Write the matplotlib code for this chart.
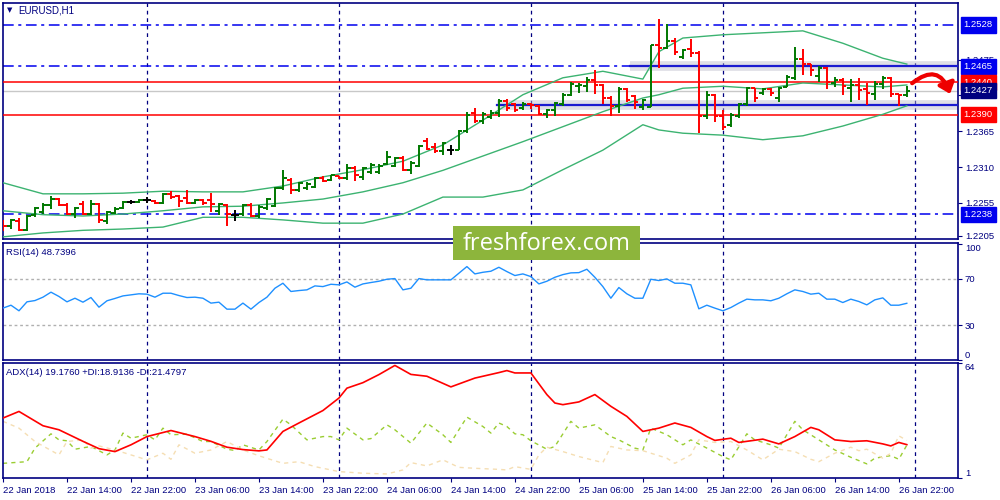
import numpy as np
import matplotlib
matplotlib.use("Agg")
import matplotlib.pyplot as plt
from matplotlib import transforms
from matplotlib.patches import Rectangle, FancyArrowPatch

plt.rcParams["font.family"] = ["Liberation Sans", "DejaVu Sans"]

# ------------------------------------------------------------
# Data (EURUSD H1, 22 Jan 06:00 .. 26 Jan 23:00)
# ------------------------------------------------------------

OPEN = [
    1.2227, 1.2220, 1.2227, 1.2213, 1.2237, 1.2241, 1.2252, 1.2261, 1.2252, 1.2238,
    1.2253, 1.2238, 1.2253, 1.2227, 1.2240, 1.2247, 1.2256, 1.2256, 1.2260, 1.2258,
    1.2255, 1.2269, 1.2266, 1.2263, 1.2255, 1.2260, 1.2260, 1.2243, 1.2252, 1.2237,
    1.2238, 1.2252, 1.2235, 1.2247, 1.2250, 1.2278, 1.2290, 1.2275, 1.2278, 1.2279,
    1.2293, 1.2290, 1.2296, 1.2293, 1.2309, 1.2295, 1.2303, 1.2303, 1.2315, 1.2312,
    1.2324, 1.2306, 1.2312, 1.2350, 1.2341, 1.2335, 1.2336, 1.2336, 1.2365, 1.2393,
    1.2381, 1.2387, 1.2393, 1.2411, 1.2407, 1.2401, 1.2407, 1.2404, 1.2391, 1.2398,
    1.2407, 1.2421, 1.2434, 1.2434, 1.2444, 1.2436, 1.2416, 1.2404, 1.2430, 1.2419,
    1.2402, 1.2402, 1.2497, 1.2493, 1.2503, 1.2479, 1.2491, 1.2485, 1.2388, 1.2421,
    1.2388, 1.2375, 1.2388, 1.2407, 1.2431, 1.2424, 1.2430, 1.2416, 1.2433, 1.2447,
    1.2476, 1.2468, 1.2450, 1.2462, 1.2439, 1.2444, 1.2431, 1.2436, 1.2430, 1.2422,
    1.2437, 1.2447, 1.2422, 1.2421,
]
HIGH = [
    1.2229, 1.2230, 1.2232, 1.2237, 1.2249, 1.2255, 1.2266, 1.2262, 1.2255, 1.2249,
    1.2258, 1.2260, 1.2255, 1.2243, 1.2249, 1.2258, 1.2260, 1.2261, 1.2264, 1.2259,
    1.2270, 1.2273, 1.2267, 1.2275, 1.2261, 1.2261, 1.2270, 1.2255, 1.2253, 1.2244,
    1.2253, 1.2255, 1.2252, 1.2263, 1.2279, 1.2306, 1.2293, 1.2287, 1.2287, 1.2295,
    1.2296, 1.2298, 1.2297, 1.2315, 1.2312, 1.2310, 1.2316, 1.2315, 1.2335, 1.2326,
    1.2327, 1.2319, 1.2344, 1.2355, 1.2347, 1.2349, 1.2344, 1.2367, 1.2395, 1.2401,
    1.2395, 1.2398, 1.2414, 1.2414, 1.2408, 1.2410, 1.2408, 1.2405, 1.2399, 1.2410,
    1.2424, 1.2441, 1.2439, 1.2448, 1.2459, 1.2437, 1.2419, 1.2433, 1.2431, 1.2421,
    1.2414, 1.2497, 1.2537, 1.2530, 1.2508, 1.2491, 1.2507, 1.2488, 1.2427, 1.2422,
    1.2398, 1.2393, 1.2408, 1.2433, 1.2431, 1.2431, 1.2431, 1.2433, 1.2451, 1.2494,
    1.2491, 1.2468, 1.2465, 1.2464, 1.2448, 1.2447, 1.2445, 1.2447, 1.2439, 1.2442,
    1.2450, 1.2448, 1.2422, 1.2434,
]
LOW = [
    1.2212, 1.2215, 1.2212, 1.2212, 1.2233, 1.2238, 1.2246, 1.2250, 1.2237, 1.2232,
    1.2237, 1.2237, 1.2224, 1.2223, 1.2238, 1.2246, 1.2253, 1.2255, 1.2255, 1.2253,
    1.2254, 1.2261, 1.2249, 1.2253, 1.2253, 1.2252, 1.2241, 1.2237, 1.2220, 1.2227,
    1.2235, 1.2233, 1.2232, 1.2244, 1.2249, 1.2275, 1.2269, 1.2272, 1.2275, 1.2278,
    1.2287, 1.2289, 1.2292, 1.2290, 1.2289, 1.2290, 1.2299, 1.2299, 1.2313, 1.2310,
    1.2304, 1.2299, 1.2310, 1.2336, 1.2332, 1.2329, 1.2329, 1.2336, 1.2362, 1.2378,
    1.2376, 1.2384, 1.2387, 1.2396, 1.2395, 1.2398, 1.2399, 1.2390, 1.2385, 1.2388,
    1.2404, 1.2419, 1.2424, 1.2425, 1.2422, 1.2407, 1.2388, 1.2393, 1.2410, 1.2399,
    1.2398, 1.2402, 1.2462, 1.2491, 1.2482, 1.2476, 1.2479, 1.2362, 1.2384, 1.2379,
    1.2367, 1.2371, 1.2385, 1.2404, 1.2410, 1.2421, 1.2419, 1.2410, 1.2433, 1.2444,
    1.2451, 1.2450, 1.2441, 1.2430, 1.2433, 1.2421, 1.2410, 1.2413, 1.2405, 1.2413,
    1.2430, 1.2418, 1.2404, 1.2418,
]
CLOSE = [
    1.2220, 1.2229, 1.2213, 1.2235, 1.2247, 1.2252, 1.2261, 1.2252, 1.2238, 1.2247,
    1.2238, 1.2253, 1.2229, 1.2241, 1.2246, 1.2256, 1.2256, 1.2260, 1.2260, 1.2255,
    1.2269, 1.2264, 1.2258, 1.2255, 1.2260, 1.2255, 1.2253, 1.2253, 1.2238, 1.2237,
    1.2252, 1.2235, 1.2249, 1.2261, 1.2278, 1.2293, 1.2275, 1.2286, 1.2284, 1.2293,
    1.2289, 1.2298, 1.2293, 1.2309, 1.2298, 1.2309, 1.2313, 1.2312, 1.2326, 1.2324,
    1.2306, 1.2316, 1.2342, 1.2338, 1.2335, 1.2347, 1.2336, 1.2365, 1.2390, 1.2381,
    1.2391, 1.2393, 1.2411, 1.2401, 1.2398, 1.2407, 1.2405, 1.2391, 1.2398, 1.2408,
    1.2421, 1.2437, 1.2436, 1.2444, 1.2436, 1.2416, 1.2404, 1.2430, 1.2413, 1.2410,
    1.2413, 1.2497, 1.2493, 1.2503, 1.2487, 1.2490, 1.2485, 1.2388, 1.2421, 1.2388,
    1.2371, 1.2390, 1.2407, 1.2431, 1.2416, 1.2430, 1.2424, 1.2431, 1.2448, 1.2476,
    1.2468, 1.2459, 1.2462, 1.2441, 1.2444, 1.2434, 1.2436, 1.2428, 1.2424, 1.2437,
    1.2447, 1.2422, 1.2420, 1.2427,
]

# Bollinger bands read at a subset of bars
BAND_BARS = [0, 5, 10, 15, 20, 25, 30, 35, 40, 45, 50, 55, 60, 65, 70, 75, 80,
             82, 85, 90, 95, 100, 105, 110, 113]
BB_UPPER = [1.2286, 1.2269, 1.2269, 1.2270, 1.2273, 1.2272, 1.2272, 1.2281, 1.2295,
            1.2306, 1.2319, 1.2344, 1.2382, 1.2421, 1.2447, 1.2457, 1.2445, 1.2487,
            1.2508, 1.2513, 1.2516, 1.2519, 1.2500, 1.2477, 1.2468]
BB_MIDDLE = [1.2243, 1.2237, 1.2235, 1.2238, 1.2243, 1.2249, 1.2250, 1.2255, 1.2261,
             1.2272, 1.2286, 1.2305, 1.2327, 1.2349, 1.2372, 1.2395, 1.2416, 1.2421,
             1.2431, 1.2434, 1.2430, 1.2439, 1.2436, 1.2433, 1.2436]
BB_LOWER = [1.2203, 1.2209, 1.2213, 1.2215, 1.2218, 1.2233, 1.2233, 1.2229, 1.2224,
            1.2224, 1.2238, 1.2264, 1.2264, 1.2275, 1.2306, 1.2336, 1.2375, 1.2367,
            1.2362, 1.2359, 1.2352, 1.2358, 1.2373, 1.2391, 1.2404]

RSI = [
    44.6, 47.1, 42.3, 50.0, 51.1, 54.0, 58.3, 54.6, 50.0, 53.1,
    49.7, 53.7, 45.4, 50.9, 52.9, 55.1, 56.0, 56.9, 56.6, 54.0,
    57.4, 57.4, 55.4, 53.7, 54.0, 53.1, 48.9, 49.7, 43.7, 43.7,
    48.9, 43.7, 49.4, 54.0, 61.7, 66.0, 58.9, 59.7, 60.3, 63.7,
    63.1, 65.1, 64.6, 67.1, 62.6, 65.4, 66.6, 67.7, 69.4, 70.0,
    60.3, 61.7, 70.0, 68.9, 68.9, 68.9, 68.9, 74.6, 80.3, 74.0,
    75.4, 76.3, 79.7, 76.0, 72.6, 74.0, 71.7, 65.4, 67.7, 71.1,
    73.4, 74.9, 75.1, 78.0, 71.1, 63.1, 53.1, 62.3, 56.9, 53.1,
    53.1, 69.4, 68.3, 69.7, 66.0, 66.0, 64.6, 44.0, 47.1, 44.6,
    42.3, 45.1, 48.9, 52.3, 51.7, 51.7, 50.9, 53.1, 56.9, 60.3,
    58.9, 56.6, 57.4, 52.3, 52.3, 49.4, 52.3, 50.3, 47.4, 51.7,
    53.4, 47.1, 47.1, 48.7396,
]

ADX_BARS = [0, 2, 5, 7, 10, 12, 14, 16, 18, 21, 24, 26, 28, 30, 32, 33, 35, 37, 40,
            42, 43, 45, 47, 49, 51, 53, 56, 59, 62, 63, 64, 66, 68, 69, 70, 72, 74,
            76, 78, 80, 82, 84, 86, 88, 89, 91, 92, 95, 97, 99, 101, 102, 104, 106,
            108, 110, 111, 112, 113]
ADX = [33.7, 37.3, 29.5, 27.3, 21.0, 17.0, 15.4, 19.1, 23.6, 26.9, 23.6, 21.0, 17.8,
       16.5, 15.8, 16.3, 26.4, 31.0, 37.8, 44.6, 50.0, 53.0, 57.4, 62.4, 57.5, 56.5,
       50.7, 55.5, 58.5, 59.6, 58.3, 58.3, 46.5, 41.9, 41.0, 42.5, 46.5, 40.1, 34.6,
       26.4, 28.2, 31.0, 28.6, 23.6, 21.5, 22.7, 20.4, 22.2, 19.6, 23.6, 28.6, 27.3,
       21.8, 20.9, 21.3, 19.6, 18.5, 20.4, 19.2]

PDI_BARS = [0, 3, 4, 6, 7, 8, 9, 11, 13, 14, 15, 16, 18, 19, 20, 21, 23, 25, 26, 28,
            29, 30, 32, 33, 35, 36, 38, 40, 41, 42, 43, 45, 46, 48, 49, 51, 53, 55,
            56, 58, 60, 61, 62, 63, 64, 65, 66, 68, 69, 71, 72, 74, 76, 77, 79, 80,
            81, 83, 85, 86, 88, 90, 91, 93, 94, 96, 97, 99, 100, 102, 104, 106, 108,
            109, 111, 112, 113]
PLUS_DI = [9.0, 9.9, 17.3, 25.1, 21.8, 21.3, 16.7, 18.2, 13.6, 16.3, 25.5, 22.7, 24.6,
           21.8, 28.2, 24.6, 24.9, 20.9, 20.9, 16.7, 16.0, 19.1, 16.3, 20.9, 33.1, 30.0,
           21.8, 23.6, 23.6, 21.8, 28.2, 21.8, 22.5, 30.0, 27.3, 20.0, 31.0, 24.6, 20.4,
           34.2, 29.1, 25.5, 31.0, 29.1, 25.1, 24.6, 21.3, 16.7, 18.2, 31.9, 28.2, 30.0,
           23.6, 21.8, 17.3, 16.3, 28.2, 24.6, 19.1, 21.8, 17.3, 12.7, 10.9, 25.1, 21.8,
           19.1, 17.3, 31.9, 27.3, 21.8, 16.3, 12.3, 8.7, 11.8, 13.2, 11.2, 18.9]

MDI_BARS = [0, 2, 4, 7, 8, 10, 11, 12, 14, 16, 18, 20, 21, 22, 24, 26, 28, 30, 32, 35,
            37, 39, 42, 45, 48, 50, 51, 53, 55, 57, 59, 62, 63, 64, 66, 67, 68, 70, 72,
            75, 76, 78, 80, 83, 84, 86, 87, 89, 91, 93, 95, 97, 99, 101, 102, 104, 106,
            107, 108, 110, 111, 112, 113]
MINUS_DI = [31.9, 28.2, 20.9, 13.6, 20.9, 21.8, 17.3, 18.5, 16.3, 13.6, 10.9, 14.5, 11.2,
            19.1, 14.5, 16.3, 20.9, 16.3, 13.1, 9.0, 9.9, 7.2, 4.5, 3.6, 3.2, 5.4, 9.4,
            7.6, 10.9, 6.8, 6.3, 5.7, 5.4, 7.2, 5.7, 13.6, 17.8, 15.4, 12.7, 9.4, 18.2,
            16.3, 15.9, 11.8, 9.0, 13.6, 21.8, 20.4, 20.9, 16.3, 10.9, 16.7, 15.4, 11.2,
            9.9, 14.5, 17.8, 15.9, 16.7, 11.8, 14.5, 24.0, 21.5]

# Horizontal levels drawn on the price panel
LEVEL_DASHED = [1.2528, 1.2238]
LEVEL_RED = [1.2440, 1.2390]
LEVEL_BLUE_TOP = 1.2465
LEVEL_BLUE_LOW = 1.2405
BID = 1.2427

PRICE_TICKS = [1.2205, 1.2255, 1.2310, 1.2365, 1.2420, 1.2475]
BOX_LABELS = [(1.2528, "#0000ee"), (1.2465, "#0000ee"), (1.2440, "#ff0000"),
              (1.2427, "#000080"), (1.2390, "#ff0000"), (1.2238, "#0000ee")]

TIME_TICKS = list(range(0, 113, 8))
TIME_LABELS = ["22 Jan 2018", "22 Jan 14:00", "22 Jan 22:00", "23 Jan 06:00",
               "23 Jan 14:00", "23 Jan 22:00", "24 Jan 06:00", "24 Jan 14:00",
               "24 Jan 22:00", "25 Jan 06:00", "25 Jan 14:00", "25 Jan 22:00",
               "26 Jan 06:00", "26 Jan 14:00", "26 Jan 22:00"]
GRID_BARS = [18, 42, 66, 90, 114]

# ------------------------------------------------------------
# Style
# ------------------------------------------------------------

NAVY = "#000080"
FS = 6.8
XLIM = (-0.06, 119.4)

fig = plt.figure(figsize=(10, 5), dpi=100)
ax = fig.add_axes([0.0025, 0.522, 0.9555, 0.473])
ax_rsi = fig.add_axes([0.0025, 0.280, 0.9555, 0.235])
ax_adx = fig.add_axes([0.0025, 0.044, 0.9555, 0.231])

for a in (ax, ax_rsi, ax_adx):
    a.set_xlim(*XLIM)
    for s in a.spines.values():
        s.set_color(NAVY)
        s.set_linewidth(1.2)
    a.yaxis.tick_right()
    a.tick_params(axis="y", colors=NAVY, labelsize=FS, length=3, width=0.8, pad=2)
    a.tick_params(axis="x", colors=NAVY, length=0)
    a.set_xticks([])
    for gx in GRID_BARS:
        a.axvline(gx, color=NAVY, lw=0.9, ls=(0, (3, 3)), zorder=1)

# ---------------- price panel ----------------
x = np.arange(len(CLOSE))
o = np.array(OPEN)
c = np.array(CLOSE)
cols = np.where(c > o, "#007800", np.where(c < o, "#ff0000", "#000000"))

ax.set_ylim(1.21997, 1.25625)

for lv in LEVEL_DASHED:
    ax.axhline(lv, color="#0000ee", lw=1.1, ls=(0, (7, 3, 2, 3)), zorder=2)
ax.plot([XLIM[0], 78.4], [LEVEL_BLUE_TOP] * 2, color="#0000ee", lw=1.1,
        ls=(0, (7, 3, 2, 3)), zorder=2)
for start, lv in ((78.4, LEVEL_BLUE_TOP), (61.8, LEVEL_BLUE_LOW)):
    ax.plot([start, XLIM[1]], [lv, lv], color="#b8b8c8", lw=7, alpha=0.45,
            solid_capstyle="butt", zorder=2)
    ax.plot([start, XLIM[1]], [lv, lv], color="#1a1ad0", lw=1.6, zorder=3)
for lv in LEVEL_RED:
    ax.axhline(lv, color="#ff0000", lw=1.1, zorder=3)
ax.axhline(BID, color="#c8c8c8", lw=1.0, zorder=2)

ax.plot(BAND_BARS, BB_UPPER, color="#3cb371", lw=1.0, zorder=4)
ax.plot(BAND_BARS, BB_MIDDLE, color="#3cb371", lw=1.0, zorder=4)
ax.plot(BAND_BARS, BB_LOWER, color="#3cb371", lw=1.0, zorder=4)

ax.vlines(x, LOW, HIGH, colors=cols, lw=1.4, zorder=5)
ax.hlines(OPEN, x - 0.45, x, colors=cols, lw=1.4, zorder=5)
ax.hlines(CLOSE, x, x + 0.45, colors=cols, lw=1.4, zorder=5)

ax.set_yticks(PRICE_TICKS)
ax.set_yticklabels([f"{v:.4f}" for v in PRICE_TICKS])
tr = transforms.blended_transform_factory(ax.transAxes, ax.transData)
for val, col in BOX_LABELS:
    ax.text(1.006, val, f"{val:.4f}", transform=tr, color="white", fontsize=FS,
            va="center", ha="left", clip_on=False, zorder=10,
            bbox=dict(boxstyle="square,pad=0.32", facecolor=col, edgecolor=col))

fig.text(0.010, 0.979, "\u25bc", fontsize=5, color=NAVY, family=["DejaVu Sans"],
         va="center", ha="center")
fig.text(0.018, 0.979, "EURUSD,H1", fontsize=7, color=NAVY, va="center")

# curved red arrow next to the last bar
arrow = FancyArrowPatch((0.910, 0.830), (0.951, 0.807), transform=fig.transFigure,
                        connectionstyle="arc3,rad=-0.75",
                        arrowstyle="-|>,head_length=6,head_width=5",
                        color="#ee0000", lw=3.0, zorder=20)
fig.patches.append(arrow)

# ---------------- RSI panel ----------------
ax_rsi.set_ylim(0, 101)
ax_rsi.axhline(70, color="#b0b0b0", lw=1.0, ls=(0, (2, 2)), zorder=1)
ax_rsi.axhline(30, color="#b0b0b0", lw=1.0, ls=(0, (2, 2)), zorder=1)
ax_rsi.plot(x, RSI, color="#1e90ff", lw=1.0, zorder=3)
ax_rsi.set_yticks([100, 70, 30, 0])
ax_rsi.set_yticklabels(["100", "70", "30", "0"])
lbls = ax_rsi.get_yticklabels()
lbls[0].set_va("top")
lbls[3].set_va("bottom")
ax_rsi.text(0.004, 0.955, f"RSI(14) {RSI[-1]:.4f}",
            transform=ax_rsi.transAxes, fontsize=FS, color=NAVY, va="top")

# ---------------- ADX panel ----------------
ax_adx.set_ylim(1, 64)
ax_adx.plot(PDI_BARS, PLUS_DI, color="#9acd32", lw=1.0, ls=(0, (3, 3)), zorder=2)
ax_adx.plot(MDI_BARS, MINUS_DI, color="#f5deb3", lw=1.0, ls=(0, (3, 3)), zorder=2)
ax_adx.plot(ADX_BARS, ADX, color="#ff0000", lw=1.2, zorder=3)
ax_adx.set_yticks([64, 1])
ax_adx.set_yticklabels(["64", "1"])
lb = ax_adx.get_yticklabels()
lb[0].set_va("top")
lb[1].set_va("bottom")
ax_adx.text(0.004, 0.955, "ADX(14) 19.1760 +DI:18.9136 -DI:21.4797",
            transform=ax_adx.transAxes, fontsize=FS, color=NAVY, va="top")

ax_adx.set_xticks(TIME_TICKS)
ax_adx.set_xticklabels(TIME_LABELS, ha="left", fontsize=FS, color=NAVY)
ax_adx.tick_params(axis="x", length=3, width=0.8, colors=NAVY, pad=3)

# ---------------- watermark ----------------
fig.patches.append(Rectangle((0.453, 0.480), 0.187, 0.068, transform=fig.transFigure,
                             facecolor="#8db53c", edgecolor="none", zorder=15))
fig.text(0.5465, 0.513, "freshforex.com", fontsize=17, color="white",
         family=["Open Sans", "DejaVu Sans"], ha="center", va="center", zorder=16)

fig.savefig("out.png", dpi=100, facecolor="white")
